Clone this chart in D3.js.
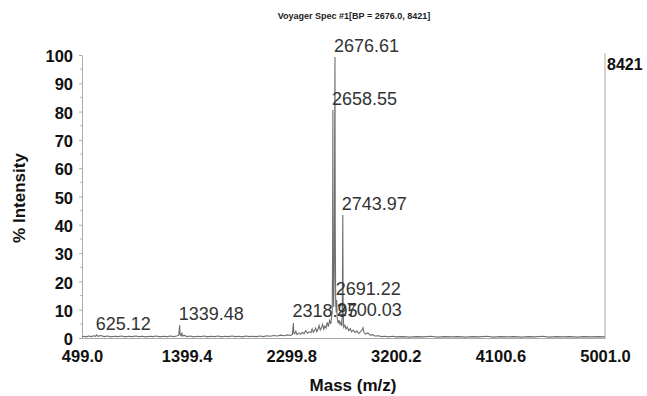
<!DOCTYPE html>
<html>
<head>
<meta charset="utf-8">
<script src="https://cdn.jsdelivr.net/npm/d3@7"></script>
<style>
  body { margin: 0; background: #fff; }
  svg { display: block; font-family: "Liberation Sans", Arial, sans-serif; }
  .axis text { font-weight: bold; font-size: 16.5px; fill: #111; }
  .axis path, .axis line { stroke: #aaa; }
  .peak { font-size: 18px; fill: #333; }
</style>
</head>
<body>
<div id="chart"></div>
<script>
// spectrum, mass (m/z) and % intensity
var masses = [499, 515, 535, 555, 580, 600, 615, 625.12, 635, 660, 690, 720, 750, 780, 810, 840, 870, 900, 930, 960,
  990, 1020, 1050, 1080, 1110, 1140, 1170, 1200, 1230, 1260, 1290, 1315, 1332, 1336, 1339.48, 1343, 1352, 1358, 1364, 1380,
  1405, 1430, 1460, 1490, 1520, 1550, 1580, 1610, 1640, 1670, 1700, 1730, 1760, 1790, 1820, 1850, 1880, 1910, 1940, 1970,
  2000, 2030, 2060, 2090, 2120, 2150, 2180, 2210, 2240, 2270, 2295, 2310, 2315, 2318.95, 2322, 2330, 2340, 2350, 2365, 2380,
  2395, 2410, 2425, 2440, 2455, 2470, 2480, 2490, 2500, 2510, 2520, 2530, 2540, 2550, 2560, 2570, 2580, 2590, 2600, 2610,
  2620, 2630, 2640, 2648, 2653, 2656, 2658.55, 2661, 2665, 2670, 2674, 2676.61, 2679, 2683, 2688, 2691.22, 2695, 2700.03, 2705, 2712,
  2720, 2728, 2736, 2740, 2743.97, 2747, 2752, 2762, 2772, 2782, 2795, 2808, 2820, 2835, 2850, 2865, 2880, 2895, 2910, 2918,
  2925, 2940, 2960, 2980, 3000, 3020, 3050, 3080, 3110, 3140, 3170, 3200, 3260, 3320, 3380, 3440, 3500, 3560, 3620, 3680,
  3740, 3800, 3860, 3920, 3980, 4040, 4100, 4160, 4220, 4280, 4340, 4400, 4460, 4520, 4580, 4640, 4700, 4760, 4820, 4880,
  4940, 5001];
var intensity = [0.4, 0.6, 0.4, 0.7, 0.5, 0.8, 0.6, 1.1, 0.6, 0.9, 0.5, 0.7, 0.4, 0.6, 0.5, 0.7, 0.4, 0.6, 0.5, 0.7,
  0.5, 0.6, 0.4, 0.6, 0.5, 0.7, 0.4, 0.6, 0.5, 0.7, 0.5, 0.7, 1.0, 3.0, 4.6, 1.2, 0.8, 1.9, 0.7, 0.9,
  0.5, 0.7, 0.4, 0.6, 0.5, 0.7, 0.4, 0.6, 0.5, 0.7, 0.4, 0.6, 0.5, 0.7, 0.5, 0.6, 0.4, 0.7, 0.5, 0.6,
  0.5, 0.7, 0.5, 0.8, 0.6, 0.9, 0.7, 1.0, 0.8, 1.1, 0.9, 1.3, 3.5, 5.3, 1.8, 1.5, 2.4, 1.2, 1.8, 1.3,
  2.0, 1.5, 2.6, 1.7, 2.2, 1.9, 3.2, 2.0, 2.6, 3.5, 2.2, 3.0, 4.4, 2.8, 3.6, 4.8, 3.1, 4.2, 3.5, 5.5,
  4.0, 6.2, 5.0, 7.5, 9.0, 30, 80.6, 28, 11, 22, 68, 99.3, 38, 12, 9, 13.4, 7.5, 6.0, 5.2, 6.3,
  4.8, 5.5, 4.2, 12, 43.5, 9, 3.8, 4.5, 3.2, 3.9, 2.6, 3.3, 2.2, 2.8, 1.9, 2.5, 1.6, 2.2, 2.9, 3.6,
  2.0, 1.4, 1.8, 1.0, 1.2, 0.7, 0.8, 0.5, 0.6, 0.4, 0.6, 0.4, 0.5, 0.3, 0.5, 0.4, 0.6, 0.3, 0.5, 0.4,
  0.5, 0.3, 0.5, 0.4, 0.6, 0.3, 0.5, 0.4, 0.5, 0.3, 0.5, 0.4, 0.6, 0.3, 0.5, 0.4, 0.5, 0.3, 0.5, 0.4,
  0.5, 0.4];

// labelled peaks
var peakMass = [625.12, 1339.48, 2318.95, 2658.55, 2676.61, 2691.22, 2700.03, 2743.97];
var peakLabel = ["625.12", "1339.48", "2318.95", "2658.55", "2676.61", "2691.22", "2700.03", "2743.97"];
var peakInt = [1.1, 4.6, 5.6, 80.6, 99.3, 13.4, 6.0, 43.5];

var xTicks = [499.0, 1399.4, 2299.8, 3200.2, 4100.6, 5001.0];
var yTicks = [0, 10, 20, 30, 40, 50, 60, 70, 80, 90, 100];

var W = 647, H = 396;

var svg = d3.select("#chart").append("svg")
    .attr("width", W)
    .attr("height", H)

var x = d3.scaleLinear().domain([499, 5001]).range([82, 605]),
    y = d3.scaleLinear().domain([0, 100]).range([338, 55])

// y axis
svg.append("g")
    .attr("class", "axis")
    .attr("transform", "translate(" + x(499) + ",0)")
    .call(d3.axisLeft(y).tickValues(yTicks).tickSize(3).tickSizeOuter(0).tickPadding(6))
    .call(function (g) { g.selectAll("text").attr("dy", "0.4em"); })

// minor ticks at 5s
svg.append("g")
    .selectAll("line")
    .data(yTicks.slice(0, 10))
    .enter().append("line")
    .attr("x1", x(499) - 2).attr("x2", x(499))
    .attr("y1", function (d) { return y(d + 5); })
    .attr("y2", function (d) { return y(d + 5); })
    .attr("stroke", "#bbb")

// x axis
svg.append("g")
    .attr("class", "axis")
    .attr("transform", "translate(0," + y(0) + ")")
    .call(d3.axisBottom(x).tickValues(xTicks).tickSize(0).tickPadding(12).tickFormat(d3.format(".1f")))

// right edge line
svg.append("line")
    .attr("x1", x(5001)).attr("x2", x(5001))
    .attr("y1", y(0)).attr("y2", y(100) - 2)
    .attr("stroke", "#aaa")

svg.append("text")
    .attr("x", x(5001) + 2)
    .attr("y", y(100) + 15)
    .attr("font-weight", "bold")
    .attr("font-size", "16px")
    .attr("fill", "#111")
    .text("8421")

// spectrum
var spec = masses.map(function (m, i) { return [m, intensity[i]]; });
var line = d3.line()
    .x(function (d) { return x(d[0]); })
    .y(function (d) { return y(d[1]); });

svg.append("path")
    .datum(spec)
    .attr("d", line)
    .attr("fill", "none")
    .attr("stroke", "#6e6e6e")
    .attr("stroke-width", 1.1)

// peak labels
svg.append("g")
    .selectAll("text")
    .data(peakMass)
    .enter().append("text")
    .attr("class", "peak")
    .attr("x", function (d) { return x(d) - 1; })
    .attr("y", function (d, i) { return y(peakInt[i]) - 5; })
    .text(function (d, i) { return peakLabel[i]; })

// titles
svg.append("text")
    .attr("x", 354)
    .attr("y", 19)
    .attr("text-anchor", "middle")
    .attr("font-weight", "bold")
    .attr("font-size", "9px")
    .attr("fill", "#222")
    .text("Voyager Spec #1[BP = 2676.0, 8421]")

svg.append("text")
    .attr("x", 353)
    .attr("y", 391)
    .attr("text-anchor", "middle")
    .attr("font-weight", "bold")
    .attr("font-size", "17px")
    .attr("fill", "#111")
    .text("Mass (m/z)")

svg.append("text")
    .attr("transform", "translate(25," + 198 + ") rotate(-90)")
    .attr("text-anchor", "middle")
    .attr("font-weight", "bold")
    .attr("font-size", "17px")
    .attr("fill", "#111")
    .text("% Intensity")
</script>
</body>
</html>
